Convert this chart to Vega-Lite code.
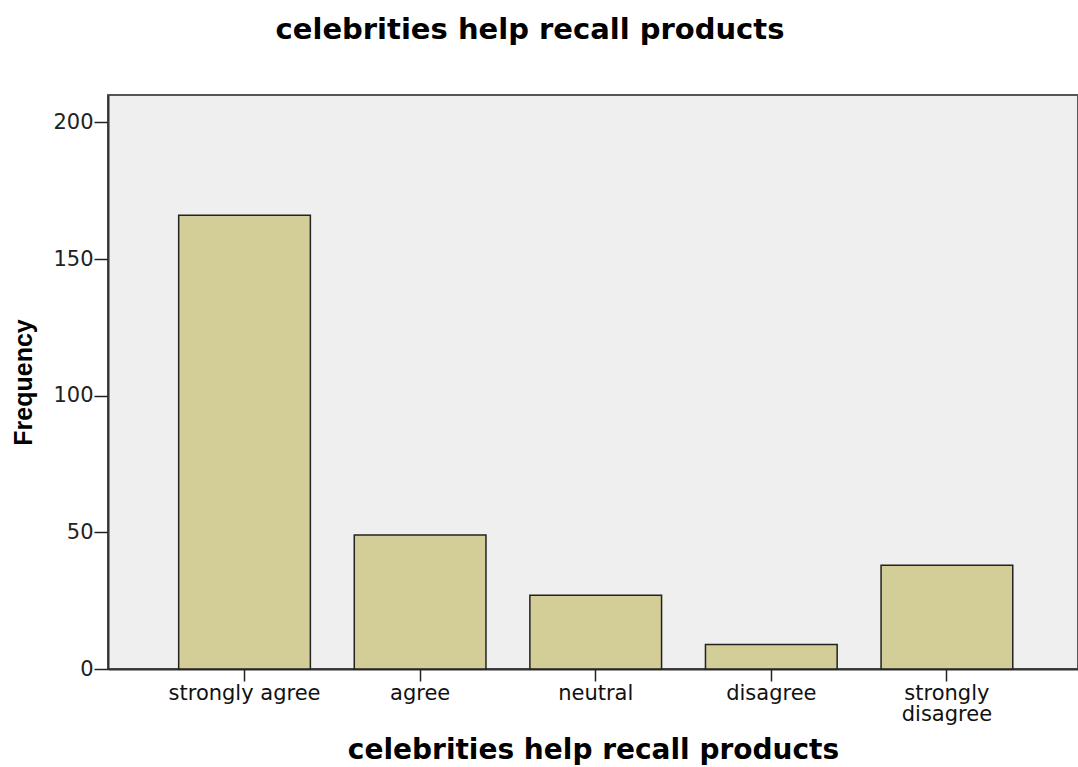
{
  "$schema": "https://vega.github.io/schema/vega-lite/v6.json",
  "width": 970,
  "height": 574,
  "autosize": "none",
  "padding": {"left": 108, "top": 95, "right": 0, "bottom": 98},
  "background": "white",
  "title": {
    "text": "celebrities help recall products",
    "font": "DejaVu Sans",
    "fontSize": 29,
    "fontWeight": "bold",
    "color": "#000000",
    "anchor": "middle",
    "frame": "group",
    "dx": -63,
    "offset": 50
  },
  "data": {
    "values": [
      {"response": "strongly agree", "count": 166},
      {"response": "agree", "count": 49},
      {"response": "neutral", "count": 27},
      {"response": "disagree", "count": 9},
      {"response": "strongly disagree", "count": 38}
    ]
  },
  "mark": {"type": "bar", "fill": "#D3CD97", "stroke": "#222222", "strokeWidth": 1.5},
  "encoding": {
    "x": {
      "field": "response",
      "type": "nominal",
      "sort": null,
      "scale": {"paddingInner": 0.25, "paddingOuter": 0.387, "align": 0.52},
      "axis": {
        "title": "celebrities help recall products",
        "titleFont": "DejaVu Sans",
        "titleFontSize": 28,
        "titleFontWeight": "bold",
        "titleColor": "#000000",
        "titlePadding": 12,
        "labelAngle": 0,
        "labelFont": "DejaVu Sans",
        "labelFontSize": 21,
        "labelColor": "#111111",
        "labelPadding": 1,
        "labelLineHeight": 21,
        "labelExpr": "datum.label == 'strongly disagree' ? ['strongly', 'disagree'] : datum.label",
        "tickSize": 12,
        "tickColor": "#222222",
        "tickWidth": 1.5,
        "domainColor": "#333333",
        "domainWidth": 2
      }
    },
    "y": {
      "field": "count",
      "type": "quantitative",
      "scale": {"domain": [0, 210], "nice": false},
      "axis": {
        "title": "Frequency",
        "titleFont": "Liberation Sans",
        "titleFontSize": 25,
        "titleFontWeight": "bold",
        "titleColor": "#000000",
        "titlePadding": 16,
        "values": [0, 50, 100, 150, 200],
        "labelFont": "DejaVu Sans",
        "labelFontSize": 21,
        "labelColor": "#222222",
        "labelPadding": 1,
        "tickSize": 14,
        "tickColor": "#222222",
        "tickWidth": 1.5,
        "domainColor": "#333333",
        "domainWidth": 2,
        "grid": false
      }
    }
  },
  "config": {
    "view": {"fill": "#EFEFEF", "stroke": "#555555", "strokeWidth": 2}
  }
}
